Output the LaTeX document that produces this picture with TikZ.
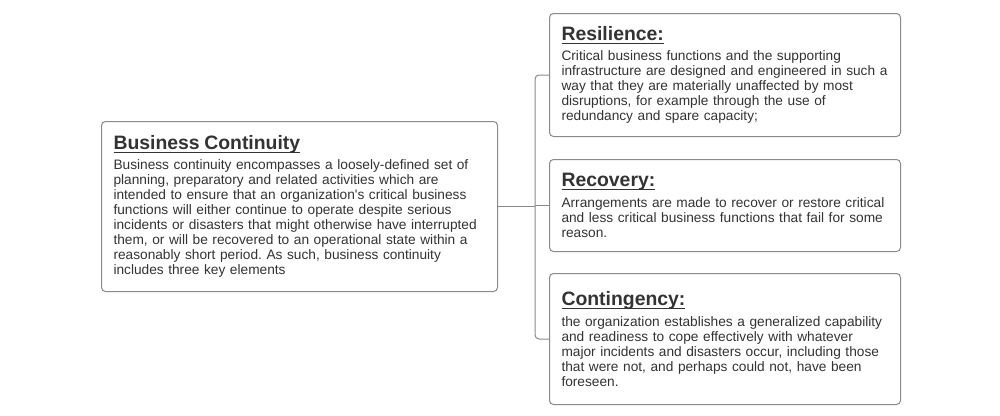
\documentclass[tikz,border=0pt]{standalone}
\usepackage{fontspec}
\setmainfont{Liberation Sans}
\usepackage{xcolor}
\usetikzlibrary{positioning}
\definecolor{ink}{HTML}{333333}
\definecolor{rim}{HTML}{8A8A8A}
\frenchspacing
\newcommand{\heading}[1]{\rightskip=-15pt plus 1fil\relax{\fontsize{19.4}{22}\bfseries\selectfont\setbox0\hbox{#1}\rlap{\rule[-3.6pt]{\wd0}{1.3pt}}\box0}}

\begin{document}
\begin{tikzpicture}[x=1pt, y=-1pt, node distance=22pt,
    card/.style={draw=rim, line width=1pt, rounded corners=4pt, fill=white, text=ink,
      align=left, anchor=north west, inner xsep=12pt, inner ysep=0pt,
      font=\fontsize{13.7}{15}\selectfont},
    link/.style={draw=rim, line width=1pt, rounded corners=4pt}]
\useasboundingbox (0,0) rectangle (1000,415);
\node[card, text width=372pt, minimum height=170pt] (continuity) at (101,121) {\heading{Business Continuity}\\[5.5pt]
Business continuity encompasses a loosely-defined set of\\
planning, preparatory and related activities which are\\
intended to ensure that an organization\textquotesingle s critical business\\
functions will either continue to operate despite serious\\
incidents or disasters that might otherwise have interrupted\\
them, or will be recovered to an operational state within a\\
reasonably short period. As such, business continuity\\
includes three key elements};
\node[card, text width=327pt, minimum height=123pt] (resilience) at (549,13) {\heading{Resilience:}\\[5.5pt]
Critical business functions and the supporting\\
infrastructure are designed and engineered in such a\\
way that they are materially unaffected by most\\
disruptions, for example through the use of\\
redundancy and spare capacity;};
\node[card, text width=327pt, minimum height=92pt, below=22pt of resilience] (recovery) {\heading{Recovery:}\\[5.5pt]
Arrangements are made to recover or restore critical\\
and less critical business functions that fail for some\\
reason.};
\node[card, text width=327pt, minimum height=131pt, below=21pt of recovery] (contingency) {\heading{Contingency:}\\[5.5pt]
the organization establishes a generalized capability\\
and readiness to cope effectively with whatever\\
major incidents and disasters occur, including those\\
that were not, and perhaps could not, have been\\
foreseen.};
% connectors
\coordinate[right=37pt of continuity.east] (hub);
\draw[link] (continuity.east) -- (hub);
\draw[link] (resilience.west) -| (hub) |- (contingency.west);
\draw[link] (hub |- recovery.west) -- (recovery.west);
\end{tikzpicture}
\end{document}
